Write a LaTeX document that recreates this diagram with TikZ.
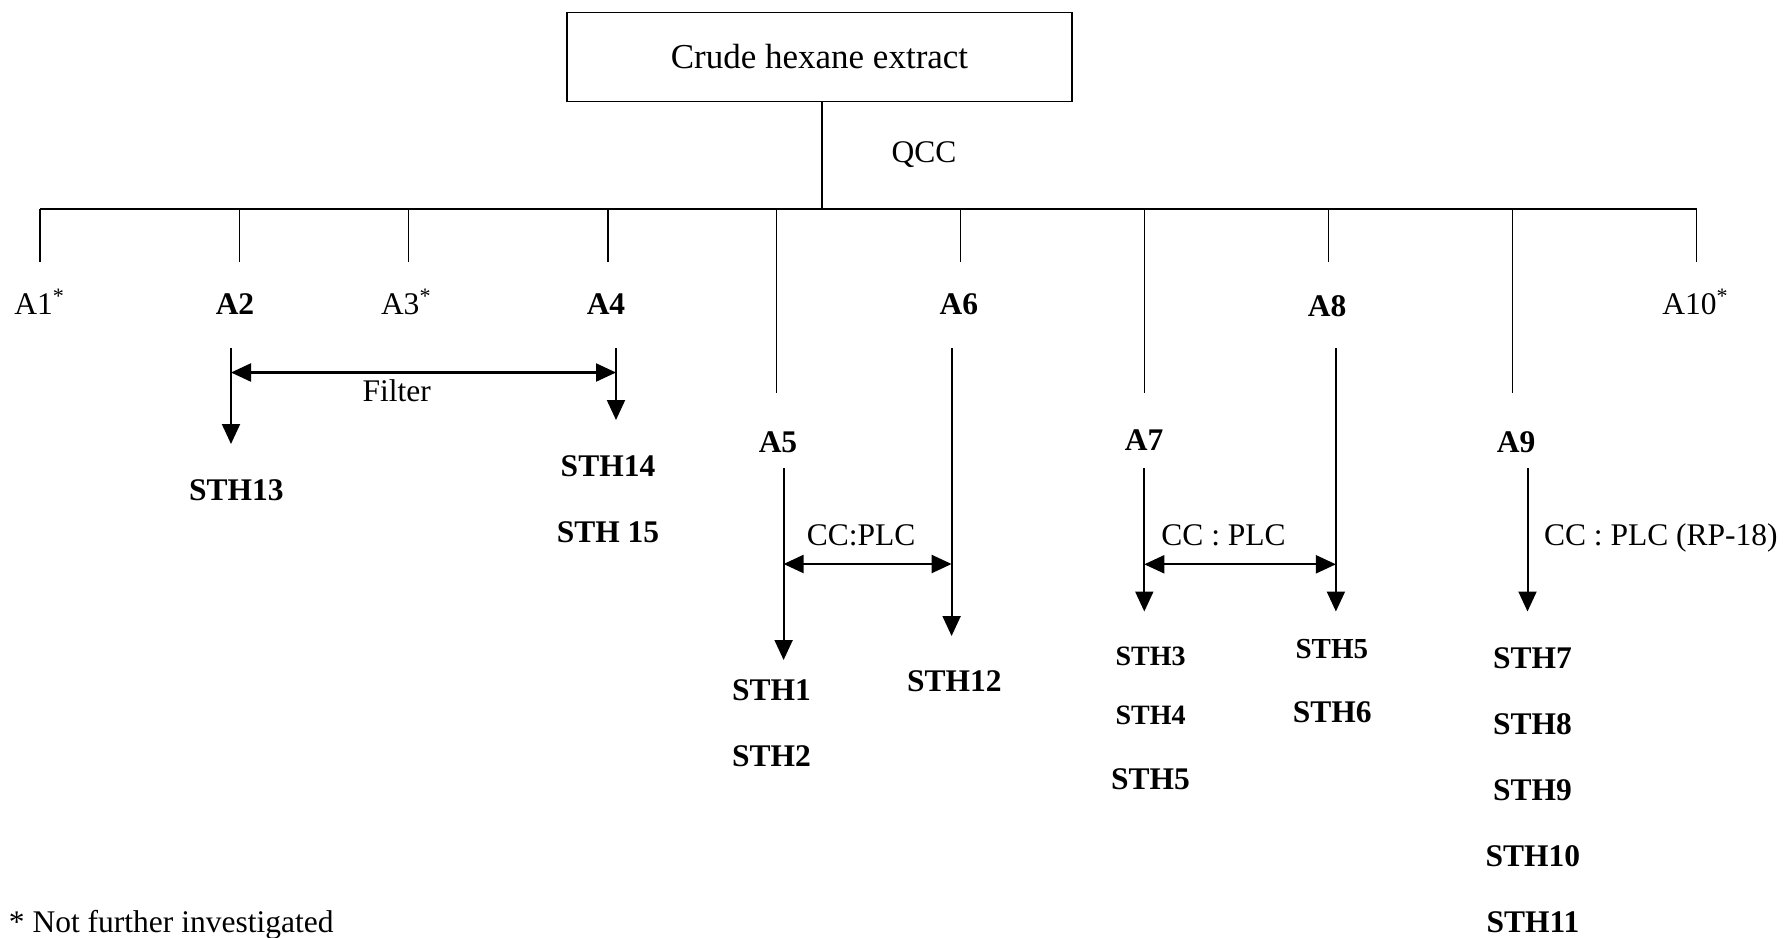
\documentclass[tikz,border=0pt]{standalone}
\usepackage{fontspec}
\setmainfont{Liberation Serif}
\usetikzlibrary{arrows.meta}
\begin{document}
\begin{tikzpicture}[x=0.5pt,y=-0.5pt,
  tree/.style={line width=0.6pt},
  arr/.style={line width=1pt,-{Triangle[length=10pt,width=9pt]}},
  darr/.style={line width=1.1pt,{Triangle[length=10pt,width=9pt]}-{Triangle[length=10pt,width=9pt]}},
  lbl/.style={inner sep=0pt,font=\fontsize{15.75}{18}\selectfont},
  blbl/.style={inner sep=0pt,font=\fontsize{15.75}{18}\selectfont\bfseries},
  sblbl/.style={inner sep=0pt,font=\fontsize{14}{16}\selectfont\bfseries},
]
\useasboundingbox (0,0) rectangle (1785,938);
% top box
\node[draw,line width=0.6pt,minimum width=252.5pt,minimum height=44.5pt,inner sep=0pt,
      font=\fontsize{17.5}{20}\selectfont] (box) at (819.5,57) {Crude hexane extract};
\coordinate (hub) at (822,209);
\draw[tree] (box.south -| hub) -- (hub);
\node[lbl,anchor=base] (qcc) at (924,162.5) {QCC};
% bar and drops
\coordinate (t1) at (40,209);
\coordinate (t2) at (239.4,209);
\coordinate (t3) at (408.7,209);
\coordinate (t4) at (608,209);
\coordinate (t5) at (776.7,209);
\coordinate (t6) at (960.2,209);
\coordinate (t7) at (1144.3,209);
\coordinate (t8) at (1328.4,209);
\coordinate (t9) at (1512.4,209);
\coordinate (t10) at (1696.5,209);
\draw[tree] (t1) -- (t10);
\foreach \i in {1,2,3,4,6,8,10} {
  \draw[tree] (t\i) -- ++(0,53);
}
\foreach \i in {5,7,9} {
  \draw[tree] (t\i) -- ++(0,184);
}
% first-level labels
\node[lbl,anchor=base west] (a1) at (14,314) {A1\textsuperscript{*}};
\node[blbl,anchor=base] (a2) at (235,314) {A2};
\node[lbl,anchor=base west] (a3) at (380.6,314) {A3\textsuperscript{*}};
\node[blbl,anchor=base] (a4) at (606,314) {A4};
\node[blbl,anchor=base] (a6) at (958.8,314) {A6};
\node[blbl,anchor=base] (a8) at (1327,316.5) {A8};
\node[lbl,anchor=base west] (a10) at (1662,314) {A10\textsuperscript{*}};
\node[blbl,anchor=base] (a5) at (778,452) {A5};
\node[blbl,anchor=base] (a7) at (1144,450) {A7};
\node[blbl,anchor=base] (a9) at (1516,452) {A9};
% A2 / A4 filter
\coordinate (s2) at (231,348);
\coordinate (e2) at (231,444);
\coordinate (s4) at (616,348);
\coordinate (e4) at (616,420);
\draw[arr] (s2) -- (e2);
\draw[arr] (s4) -- (e4);
\coordinate (f1) at (231,372.5);
\coordinate (f2) at (616,372.5);
\draw[darr] (f1) -- (f2);
\node[lbl,anchor=base] (filter) at (396.7,401) {Filter};
\node[blbl,anchor=base] (sth13) at (236.4,500) {STH13};
\node[blbl,anchor=base] (sth14) at (608,476) {STH14};
\node[blbl,anchor=base] (sth15) at (608,542) {STH 15};
% A5 / A6
\coordinate (s5) at (783.6,468);
\coordinate (e5) at (783.6,660);
\coordinate (s6) at (951.6,348);
\coordinate (e6) at (951.6,636);
\draw[arr] (s5) -- (e5);
\draw[arr] (s6) -- (e6);
\coordinate (g1) at (783.6,564);
\coordinate (g2) at (951.6,564);
\draw[darr] (g1) -- (g2);
\node[lbl,anchor=base west] (cc1) at (806.5,545.5) {CC:PLC};
\node[blbl,anchor=base] (sth1) at (771.6,700) {STH1};
\node[blbl,anchor=base] (sth2) at (771.6,766) {STH2};
\node[blbl,anchor=base] (sth12) at (954.4,691) {STH12};
% A7 / A8
\coordinate (s7) at (1144.3,468);
\coordinate (e7) at (1144.3,611.5);
\coordinate (s8) at (1335.9,348);
\coordinate (e8) at (1335.9,611.5);
\draw[arr] (s7) -- (e7);
\draw[arr] (s8) -- (e8);
\coordinate (h1) at (1144.3,564.3);
\coordinate (h2) at (1335.9,564.3);
\draw[darr] (h1) -- (h2);
\node[lbl,anchor=base west] (cc2) at (1161,545.5) {CC : PLC};
\node[sblbl,anchor=base] (sth3) at (1150.6,665) {STH3};
\node[sblbl,anchor=base] (sth4) at (1150.6,724) {STH4};
\node[blbl,anchor=base] (sth5a) at (1150.6,789.5) {STH5};
\node[blbl,anchor=base,font=\fontsize{14.5}{17}\selectfont\bfseries] (sth5b) at (1331.8,658.5) {STH5};
\node[blbl,anchor=base] (sth6) at (1332.3,722.5) {STH6};
% A9
\coordinate (s9) at (1527.5,468);
\coordinate (e9) at (1527.5,611.5);
\draw[arr] (s9) -- (e9);
\node[lbl,anchor=base west] (cc3) at (1543.6,545.5) {CC : PLC (RP-18)};
\node[blbl,anchor=base] (sth7) at (1532.4,668) {STH7};
\node[blbl,anchor=base] (sth8) at (1532.4,734) {STH8};
\node[blbl,anchor=base] (sth9) at (1532.4,800) {STH9};
\node[blbl,anchor=base] (sth10) at (1532.9,866) {STH10};
\node[blbl,anchor=base] (sth11) at (1532.9,932) {STH11};
% footnote
\node[lbl,anchor=base west] (note) at (8.6,932) {* Not further investigated};
\end{tikzpicture}
\end{document}
